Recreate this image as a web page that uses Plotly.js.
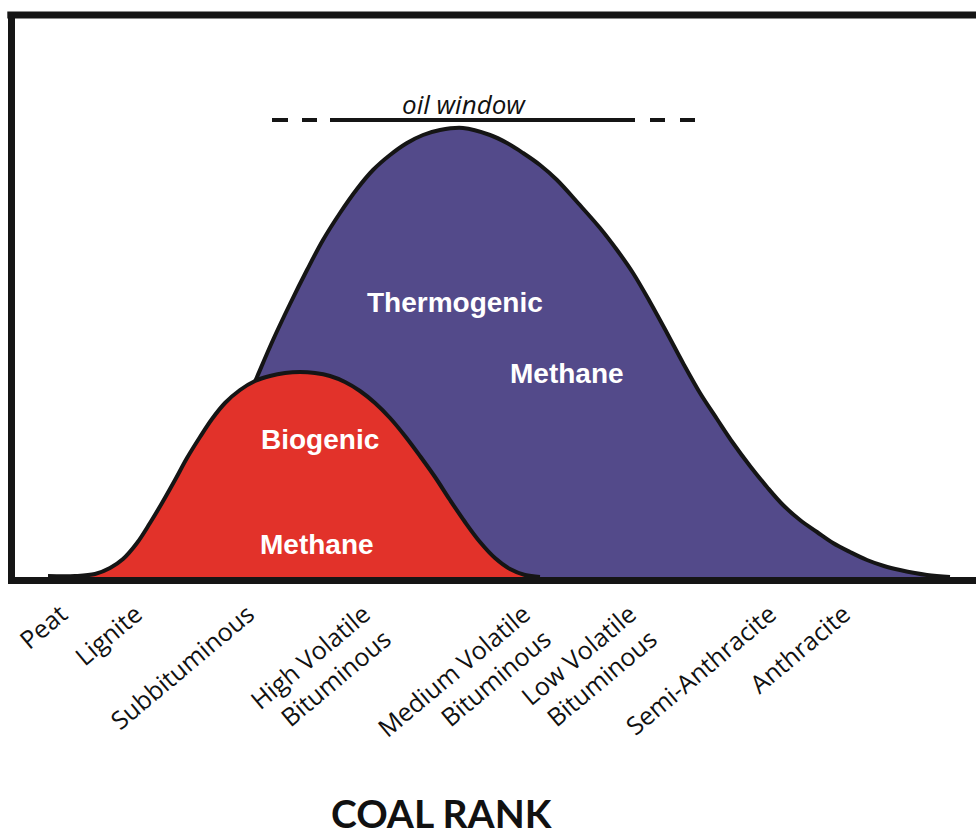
<!DOCTYPE html>
<html>
<head>
<meta charset="utf-8">
<script src="https://cdn.plot.ly/plotly-3.0.1.min.js"></script>
<style>
html,body{margin:0;padding:0;background:#fff;overflow:hidden;}
#chart{width:976px;height:836px;}
</style>
</head>
<body>
<div id="chart"></div>
<script>
// Coal rank categories (position along the rank axis) and their labels
const rankPos = [61, 136, 248, 364, 524, 630, 770, 844];
const rankLabels = ["Peat", "Lignite", "Subbituminous", "High Volatile<br>Bituminous",
  "Medium Volatile<br>Bituminous", "Low Volatile<br>Bituminous", "Semi-Anthracite", "Anthracite"];

// Thermogenic methane generation curve
const thermoX = [115, 135, 150, 165, 180, 195, 210, 225, 240, 257, 273, 290, 307, 323, 340, 357, 373, 390, 407, 423, 440, 463, 490, 507, 523, 540, 557, 578, 600, 617, 633, 650, 667, 683, 700, 717, 733, 750, 767, 783, 800, 817, 833, 850, 867, 884, 900, 927, 950];
const thermoY = [0, 3, 9, 19, 35, 58, 88, 122, 160, 200, 237, 273, 307, 337, 364, 388, 407, 422, 434, 442, 447, 449, 442, 434, 424, 412, 397, 374, 349, 327, 304, 275, 244, 214, 184, 158, 134, 111, 90, 72, 57, 45, 34, 25, 17, 11, 7, 2, 0];

// Biogenic methane generation curve
const bioX = [48, 75, 95, 110, 123, 137, 150, 162, 175, 187, 200, 212, 225, 240, 255, 270, 285, 300, 315, 330, 345, 360, 375, 390, 405, 420, 435, 450, 465, 480, 495, 510, 525, 540];
const bioY = [1, 1, 3, 9, 18, 34, 54, 74, 97, 119, 140, 158, 174, 187, 196, 201, 204, 205, 204, 201, 195, 186, 174, 159, 141, 121, 100, 77, 55, 35, 19, 8, 2, 0];

// Oil window marker
const oilSolidX = [330, 635];
const oilDashLeftX = [272, 317];
const oilDashRightX = [650, 695];
const oilLevel = 457;

const purple = "#534a8a";
const red = "#e2322a";
const ink = "#151515";

const traces = [
  {x: thermoX, y: thermoY, type: "scatter", mode: "lines", fill: "tozeroy",
   fillcolor: purple, line: {color: ink, width: 4, shape: "spline", smoothing: 1}, hoverinfo: "skip"},
  {x: bioX, y: bioY, type: "scatter", mode: "lines", fill: "tozeroy",
   fillcolor: red, line: {color: ink, width: 4, shape: "spline", smoothing: 1}, hoverinfo: "skip"},
  {x: oilSolidX, y: oilSolidX.map(() => oilLevel), type: "scatter", mode: "lines",
   line: {color: ink, width: 4}, hoverinfo: "skip"},
  {x: oilDashLeftX, y: oilDashLeftX.map(() => oilLevel), type: "scatter", mode: "lines",
   line: {color: ink, width: 4, dash: "16px,14px"}, hoverinfo: "skip"},
  {x: oilDashRightX, y: oilDashRightX.map(() => oilLevel), type: "scatter", mode: "lines",
   line: {color: ink, width: 4, dash: "15px,15px"}, hoverinfo: "skip"}
];

const labelFont = {family: "Liberation Sans, Arial, sans-serif", size: 28, color: "#ffffff", weight: "bold"};

const layout = {
  width: 976, height: 836,
  margin: {l: 15, r: 0, t: 15, b: 259, pad: 0},
  paper_bgcolor: "#ffffff", plot_bgcolor: "#ffffff",
  showlegend: false,
  xaxis: {
    range: [15, 976], showgrid: false, zeroline: false,
    showline: true, linewidth: 7, linecolor: ink,
    ticks: "", tickvals: rankPos, ticktext: rankLabels, tickangle: -40,
    ticklabelstandoff: 6,
    tickfont: {family: "Open Sans, sans-serif", size: 25, color: "#111"},
    automargin: false, fixedrange: true
  },
  yaxis: {
    range: [0, 562], showgrid: false, zeroline: false,
    showline: true, linewidth: 7, linecolor: ink,
    showticklabels: false, ticks: "", automargin: false, fixedrange: true
  },
  shapes: [
    {type: "line", xref: "paper", yref: "paper", x0: -0.008, x1: 1, y0: 1, y1: 1,
     line: {color: ink, width: 7}}
  ],
  annotations: [
    {x: 464, y: 473, xref: "x", yref: "y", text: "oil window", showarrow: false, yanchor: "middle",
     font: {family: "Open Sans, sans-serif", size: 26, style: "italic", color: "#111"}},
    {x: 455, y: 275, xref: "x", yref: "y", text: "Thermogenic", showarrow: false, font: labelFont},
    {x: 567, y: 204, xref: "x", yref: "y", text: "Methane", showarrow: false, font: labelFont},
    {x: 320, y: 138, xref: "x", yref: "y", text: "Biogenic", showarrow: false, font: labelFont},
    {x: 317, y: 33, xref: "x", yref: "y", text: "Methane", showarrow: false, font: labelFont},
    {x: (442 - 15) / 961, y: -(813 - 577) / 562, xref: "paper", yref: "paper", text: "COAL RANK", showarrow: false,
     yanchor: "middle",
     font: {family: "Lato, sans-serif", size: 39, weight: "bold", color: "#111"}}
  ]
};

Plotly.newPlot("chart", traces, layout, {displayModeBar: false, staticPlot: true});
</script>
</body>
</html>
